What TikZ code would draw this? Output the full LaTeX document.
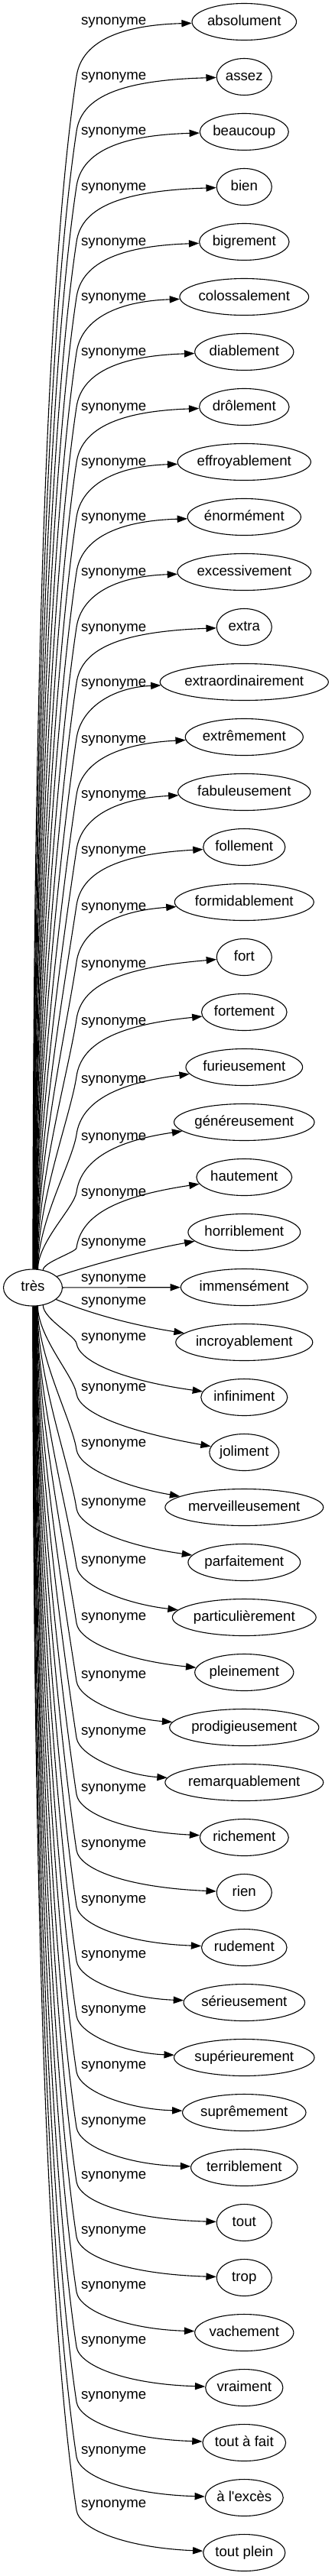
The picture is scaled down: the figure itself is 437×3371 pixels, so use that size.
\documentclass[tikz,border=0pt]{standalone}
\usepackage{fontspec}
\setmainfont{Liberation Sans}[Ligatures=TeXOff]
\usetikzlibrary{shapes.geometric,arrows.meta,calc}
\newbox\mybox
\begin{document}
\begin{tikzpicture}[x=1pt,y=-1pt,
  fnt/.style={font=\fontsize{18.67pt}{22pt}\selectfont, text height=13pt, text depth=4pt, inner sep=0pt},
  lab/.style={fnt},
  tgt/.style={fnt, ellipse, draw, line width=1.1pt, minimum height=48pt},
  syn/.style={draw, line width=1.1pt, -{Triangle[length=13.3pt,width=9.3pt]}}]
\useasboundingbox (0,0) rectangle (437,3371);
\node[tgt, minimum width=77pt] (tres) at (43,1685) {très};
\foreach \i/\w/\ly in {0/absolument/28, 1/assez/100, 2/beaucoup/172, 3/bien/244.7, 4/bigrement/317, 5/colossalement/389.3, 6/diablement/460.7, 7/drôlement/533.3, 8/effroyablement/605, 9/énormément/676.7, 10/excessivement/749, 11/extra/821.7, 12/extraordinairement/894.3, 13/extrêmement/968.3, 14/fabuleusement/1040, 15/follement/1113, 16/formidablement/1187, 17/fort/1261.7, 18/fortement/1336.7, 19/furieusement/1412.7, 20/généreusement/1488, 21/hautement/1561, 22/horriblement/1626, 23/immensément/1673, 24/incroyablement/1703, 25/infiniment/1750, 26/joliment/1816, 27/merveilleusement/1889, 28/parfaitement/1966, 29/particulièrement/2042, 30/pleinement/2116, 31/prodigieusement/2192, 32/remarquablement/2266, 33/richement/2340, 34/rien/2413, 35/rudement/2486, 36/sérieusement/2558, 37/supérieurement/2630, 38/suprêmement/2703, 39/terriblement/2776, 40/tout/2847, 41/trop/2919, 42/vachement/2991, 43/vraiment/3063, 44/tout à fait/3135, 45/à l'excès/3207, 46/tout plein/3277}{
  \setbox\mybox=\hbox{\fontsize{18.67pt}{22pt}\selectfont \w}
  \pgfmathsetmacro\W{\the\wd\mybox}
  \pgfmathsetmacro\sh{0.055*\W}
  \pgfmathsetmacro\mw{max(72,1.315*(\W+16))}
  \node[tgt, minimum width=\mw pt] (t\i) at (319.3,{28.5+72*\i}) {\hspace*{\sh pt}\w\hspace*{-\sh pt}};
  \node[lab] (l\i) at (148.7,\ly) {synonyme};
}
% upper edges
\foreach \i/\ly in {0/28, 1/100, 2/172, 3/244.7, 4/317, 5/389.3, 6/460.7, 7/533.3, 8/605, 9/676.7, 10/749, 11/821.7, 12/894.3, 13/968.3, 14/1040, 15/1113, 16/1187, 17/1261.7, 18/1336.7, 19/1412.7, 20/1488, 21/1561}{
  \pgfmathtruncatemacro\ku{23-\i}
  \pgfmathtruncatemacro\th{\ku==2 ? 60 : 75+0.75*(\ku-3)}
  \pgfmathsetmacro\Ky{\ly+72}
  \pgfmathsetmacro\D{1662-\Ky}
  \draw[syn] (tres.\th) .. controls ($(tres.\th)+(0,-0.35*\D)$) and ({100-0.03*\D},{\Ky+0.2*\D}) .. (100,\Ky)
     .. controls (106,{\ly+30}) and (150,{\ly+5}) .. (t\i);
}
% middle edges
\draw[syn] (tres.25) .. controls (120,1655) and (190,1636) .. (t22);
\draw[syn] (tres) -- (t23);
\draw[syn] (tres.333) .. controls (125,1722) and (185,1736) .. (t24);
% lower edges
\foreach \i/\ly in {25/1750, 26/1816, 27/1889, 28/1966, 29/2042, 30/2116, 31/2192, 32/2266, 33/2340, 34/2413, 35/2486, 36/2558, 37/2630, 38/2703, 39/2776, 40/2847, 41/2919, 42/2991, 43/3063, 44/3135, 45/3207, 46/3277}{
  \pgfmathtruncatemacro\kl{\i-23}
  \pgfmathtruncatemacro\th{\kl==2 ? 300 : 285-0.75*(\kl-3)}
  \pgfmathsetmacro\Ky{\ly+8}
  \pgfmathsetmacro\D{\Ky-1708}
  \draw[syn] (tres.\th) .. controls ($(tres.\th)+(0,0.35*\D)$) and ({100-0.03*\D},{\Ky-0.2*\D}) .. (100,\Ky)
     .. controls (103.75,{\ly+33}) and (165,{\ly+57}) .. (t\i);
}
\end{tikzpicture}
\end{document}
